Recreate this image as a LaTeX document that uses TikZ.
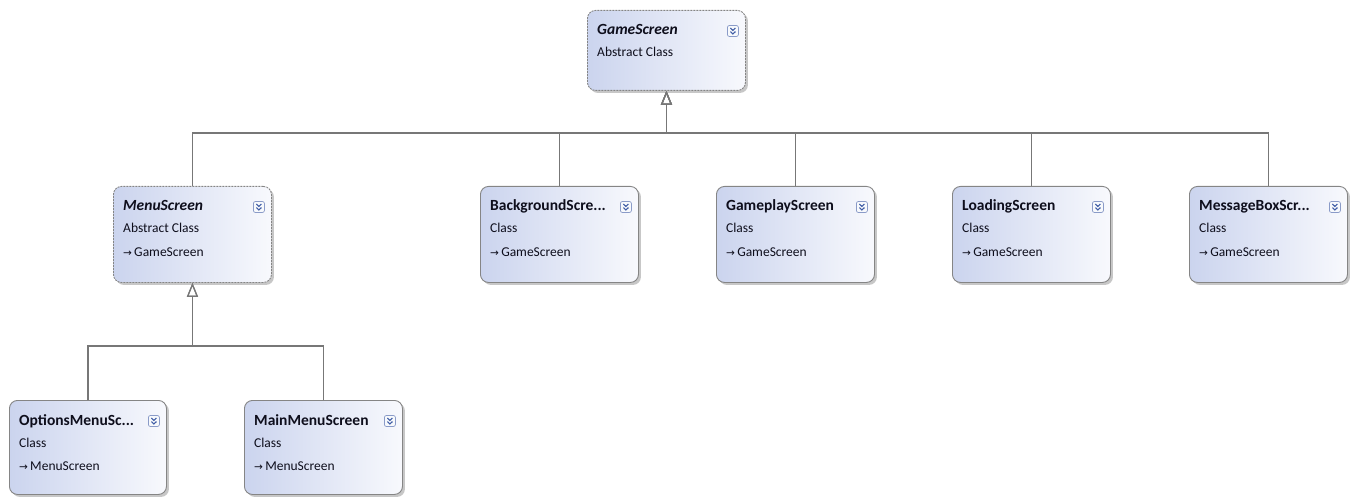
\documentclass[tikz,border=0pt]{standalone}
\usepackage{fontspec}
\setmainfont{Carlito}
\newfontfamily\symfont{DejaVu Sans}
\usetikzlibrary{arrows.meta,shadows,calc}

\definecolor{boxleft}{HTML}{CBD4EE}
\definecolor{boxright}{HTML}{F8F9FD}
\definecolor{boxedge}{HTML}{858585}
\definecolor{linkgray}{HTML}{777777}
\definecolor{iconblue}{HTML}{3F5DA6}
\definecolor{iconedge}{HTML}{8A9BC8}
\definecolor{textdark}{HTML}{0E0E1C}

\tikzset{
  classbox/.style={draw=boxedge, line width=0.9pt, rounded corners=8pt,
    anchor=north west, minimum width=158pt, minimum height=96pt, inner sep=0pt,
    left color=boxleft, right color=boxright,
    drop shadow={shadow xshift=2.5pt, shadow yshift=-2.5pt, fill=black!40, opacity=0.55}},
  abstractbox/.style={classbox, dash pattern=on 2pt off 1pt},
  titletext/.style={anchor=base west, inner sep=0pt, text=textdark,
    font=\fontsize{15.5}{17}\selectfont\bfseries},
  bodytext/.style={anchor=base west, inner sep=0pt, text=textdark,
    font=\fontsize{13.5}{15}\selectfont},
  iconbox/.style={draw=iconedge, fill=white!85!boxleft, rounded corners=2pt,
    minimum width=11pt, minimum height=11pt, inner sep=0pt, line width=0.7pt},
  chevron/.style={draw=iconblue, line width=1.1pt},
  inherit/.style={draw=linkgray, line width=1.6pt,
    -{Triangle[open, length=14pt, width=11pt, line width=1.2pt]}},
}

% one class shape: name, x, y (y grows downward), title, kind, parent line, style
\newcommand{\classshape}[7]{%
  \node[#7] (#1) at (#2,#3) {};
  \node[titletext] (#1-title) at ($(#1.north west)+(10,25)$) {#4};
  \node[bodytext] (#1-kind) at ($(#1.north west)+(10,47)$) {#5};
  \if\relax\detokenize{#6}\relax\else
    \node[bodytext] (#1-parent) at ($(#1.north west)+(10,70)$)
      {{\symfont\fontsize{10.5}{12}\selectfont →}\,#6};
  \fi
  \node[iconbox] (#1-icon) at ($(#1.north east)+(-13,21)$) {};
  \path[chevron] ($(#1-icon)+(-2.5,-3)$) -- ($(#1-icon)+(0,-0.6)$) -- ($(#1-icon)+(2.5,-3)$);
  \path[chevron] ($(#1-icon)+(-2.5,0.6)$) -- ($(#1-icon)+(0,3)$) -- ($(#1-icon)+(2.5,0.6)$);
}

\begin{document}
\begin{tikzpicture}[x=1pt, y=-1pt]
  \useasboundingbox (0,0) rectangle (1357,497);

  % class shapes
  \classshape{gs}{587}{10}{\textit{GameScreen}}{Abstract Class}{}{abstractbox, minimum height=80pt}
  \classshape{ms}{113}{186}{\textit{MenuScreen}}{Abstract Class}{GameScreen}{abstractbox}
  \classshape{bg}{480}{186}{BackgroundScre...}{Class}{GameScreen}{classbox}
  \classshape{gp}{716}{186}{GameplayScreen}{Class}{GameScreen}{classbox}
  \classshape{ld}{952}{186}{LoadingScreen}{Class}{GameScreen}{classbox}
  \classshape{mb}{1189}{186}{MessageBoxScr...}{Class}{GameScreen}{classbox}
  \classshape{om}{9}{400}{OptionsMenuSc...}{Class}{MenuScreen}{classbox, minimum width=157pt, minimum height=94pt}
  \classshape{mm}{244}{400}{MainMenuScreen}{Class}{MenuScreen}{classbox, minimum height=94pt}

  % inheritance buses
  \coordinate (gsbus) at ($(gs.south)+(0,42)$);
  \coordinate (msbus) at ($(ms.south)+(0,63)$);

  % inheritance links to GameScreen
  \foreach \c in {ms,bg,gp,ld,mb}
    \draw[inherit] (\c.north) |- (gsbus) -- (gs.south);
  % inheritance links to MenuScreen
  \foreach \c in {om,mm}
    \draw[inherit] (\c.north) |- (msbus) -- (ms.south);
\end{tikzpicture}
\end{document}
